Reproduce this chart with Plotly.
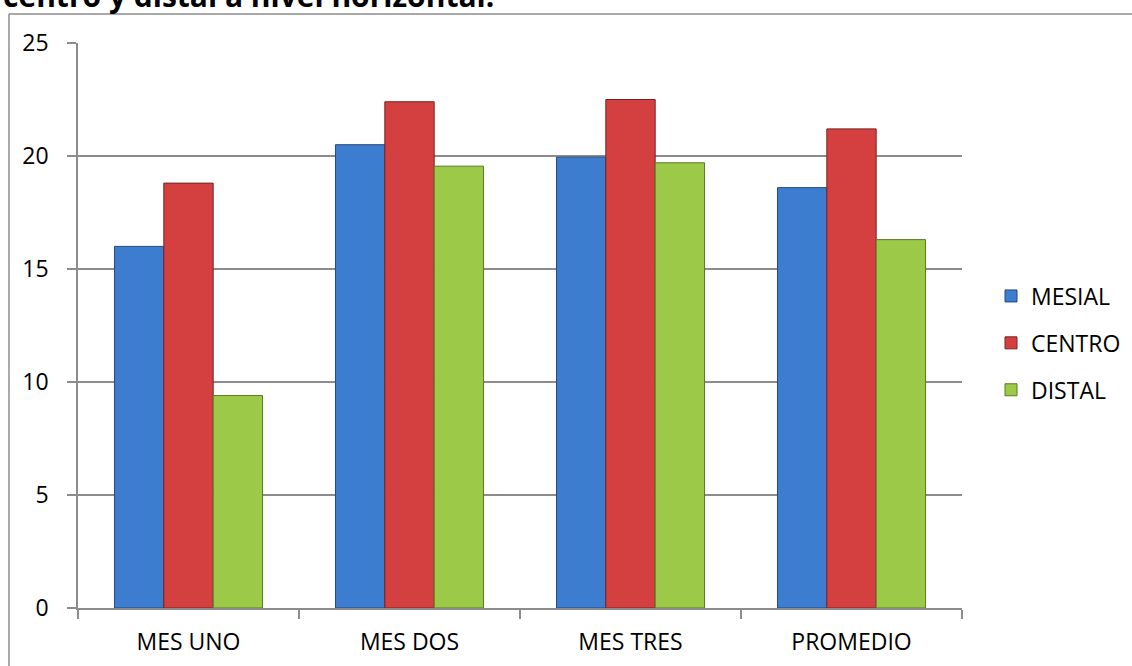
import plotly.graph_objects as go

categories = ["MES UNO", "MES DOS", "MES TRES", "PROMEDIO"]
mesial = [16.0, 20.5, 19.95, 18.6]
centro = [18.8, 22.4, 22.5, 21.2]
distal = [9.4, 19.55, 19.7, 16.3]
series_names = ["MESIAL", "CENTRO", "DISTAL"]
y_ticks = [0, 5, 10, 15, 20, 25]

colors = ["#3D7DD0", "#D43F3F", "#9CC947"]
edges = ["#23497D", "#7A2222", "#5A7A22"]

W, H = 1132, 666
L, R, T, B = 78, 1132 - 962, 43, 666 - 608
pw, ph = W - L - R, H - T - B

def px_x(px):
    return (px - L) / pw

def px_y(py):
    return (H - B - py) / ph

fig = go.Figure()
for i, (name, vals) in enumerate(zip(series_names, [mesial, centro, distal])):
    fig.add_trace(go.Bar(
        x=categories, y=vals, name=name,
        marker=dict(color=colors[i], line=dict(color=edges[i], width=1)),
        legendgroup=name,
    ))

font = "Open Sans, Liberation Sans, Arial, sans-serif"
fs = 23
fig.update_layout(
    width=W, height=H,
    margin=dict(l=L, r=R, t=T, b=B, pad=0, autoexpand=False),
    paper_bgcolor="white", plot_bgcolor="white",
    barmode="group", bargap=0.33, bargroupgap=0,
    font=dict(family=font, size=fs, color="black"),
    showlegend=True,
    legend=dict(
        x=px_x(991), y=px_y(343), xanchor="left", yanchor="middle",
        traceorder="grouped", tracegroupgap=14,
        font=dict(family=font, size=fs, color="black"),
        itemwidth=30, bgcolor="rgba(0,0,0,0)",
    ),
    xaxis=dict(
        showline=True, linecolor="#8C8C8C", linewidth=1.5,
        ticks="outside", tickson="boundaries", ticklen=9, tickcolor="#8C8C8C", tickwidth=1.5,
        showgrid=False, ticklabelstandoff=13,
        tickfont=dict(family=font, size=fs, color="black"),
    ),
    yaxis=dict(
        range=[0, 25], tickvals=y_ticks,
        showline=True, linecolor="#8C8C8C", linewidth=1.5,
        ticks="outside", ticklen=9, tickcolor="#8C8C8C", tickwidth=1.5,
        showgrid=True, gridcolor="#8C8C8C", gridwidth=1.5,
        zeroline=False, ticklabelstandoff=14,
        tickfont=dict(family=font, size=fs, color="black"),
    ),
    shapes=[
        dict(type="line", xref="paper", yref="paper", x0=px_x(9), x1=px_x(W + 5),
             y0=px_y(14), y1=px_y(14), line=dict(color="#8C8C8C", width=1.5)),
        dict(type="line", xref="paper", yref="paper", x0=px_x(9), x1=px_x(9),
             y0=px_y(14), y1=px_y(H + 5), line=dict(color="#8C8C8C", width=1.5)),
    ],
    annotations=[
        dict(text="<b>centro y distal a nivel horizontal.</b>", xref="paper", yref="paper",
             x=px_x(1), y=px_y(18), xanchor="left", yanchor="bottom", showarrow=False,
             font=dict(family=font, size=30, color="black")),
    ],
)

fig.write_html("out.html")
